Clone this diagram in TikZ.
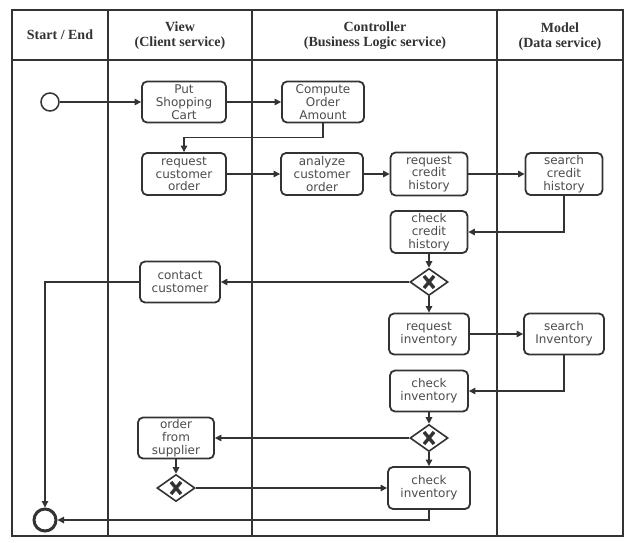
\documentclass[tikz,border=0pt]{standalone}
\usepackage{fontspec}
\setmainfont{Liberation Serif}
\newfontfamily\activityfont{DejaVu Sans}
\definecolor{jet}{rgb}{0.2, 0.2, 0.2}
\definecolor{davysgrey}{rgb}{0.3, 0.3, 0.3}
\usetikzlibrary{shapes.geometric,arrows.meta}

\begin{document}
\begin{tikzpicture}[x=1pt, y=-1pt,
	lane/.style = {draw=jet, line width=1.8pt},
	lanetitle/.style = {font={\bfseries\fontsize{14}{15}\selectfont}, text=jet, align=center},
	activity/.style = {draw=jet, line width=1.8pt, rounded corners=5pt, minimum width=80pt, minimum height=41pt, inner sep=0pt, align=center, text=davysgrey, font={\activityfont\fontsize{12}{12.8}\selectfont}},
	gateway/.style = {draw=jet, diamond, line width=1.6pt, minimum width=38pt, minimum height=27pt, inner sep=0pt,
		path picture={\draw[jet, line width=3.4pt] ([shift={(-5,-6)}]path picture bounding box.center) -- ([shift={(5,6)}]path picture bounding box.center) ([shift={(-5,6)}]path picture bounding box.center) -- ([shift={(5,-6)}]path picture bounding box.center);}},
	startevent/.style = {draw=jet, circle, line width=1.5pt, minimum size=18pt, inner sep=0pt},
	endevent/.style = {draw=jet, circle, line width=3pt, minimum size=22pt, inner sep=0pt},
	flow/.style = {draw=jet, line width=1.2pt, -{Triangle[length=6.5pt, width=6.5pt]}}]
	\useasboundingbox[fill=white] (0,0) rectangle (627,542);

	% swimlanes
	\draw[lane] (12,10) rectangle (623,536);
	\draw[lane] (12,60) -- (623,60);
	\foreach \x in {108,252,497}
		\draw[lane] (\x,10) -- (\x,536);
	\node[lanetitle] (startend) at (60,35) {Start / End};
	\node[lanetitle] (view) at (180,36) {View\\(Client service)};
	\node[lanetitle] (controller) at (375,36) {Controller\\(Business Logic service)};
	\node[lanetitle] (model) at (560,37) {Model\\(Data service)};

	% activities
	\node[startevent] (start) at (50,102) {};
	\node[activity, minimum width=84pt] (putcart) at (184,102) {Put\\Shopping\\Cart};
	\node[activity, minimum width=82pt] (computeamount) at (323,102) {Compute\\Order\\Amount};
	\node[activity, minimum width=84pt, minimum height=42pt] (requestorder) at (184,174) {request\\customer\\order};
	\node[activity, minimum width=82pt, minimum height=42pt] (analyzeorder) at (322,174) {analyze\\customer\\order};
	\node[activity, minimum width=77pt, minimum height=43pt] (requestcredit) at (429,174) {request\\credit\\history};
	\node[activity, minimum width=77pt, minimum height=42pt] (searchcredit) at (564,174) {search\\credit\\history};
	\node[activity, minimum width=77pt, minimum height=42pt] (checkcredit) at (429,232) {check\\credit\\history};
	\node[gateway] (creditok) at (429,282) {};
	\node[activity] (contactcustomer) at (180,282) {contact\\customer};
	\node[activity] (requestinventory) at (429,334) {request\\inventory};
	\node[activity] (searchinventory) at (564,334) {search\\Inventory};
	\node[activity, minimum width=78pt] (checkinventory) at (429,391) {check\\inventory};
	\node[gateway] (instock) at (429,438) {};
	\node[activity, minimum width=76pt] (ordersupplier) at (176,438) {order\\from\\supplier};
	\node[gateway] (supplied) at (176,488) {};
	\node[activity, minimum width=82pt, minimum height=42pt] (recheckinventory) at (429,488) {check\\inventory};
	\node[endevent] (end) at (45,520) {};

	% flows
	\draw[flow] (start) -- (putcart);
	\draw[flow] (putcart) -- (computeamount);
	\draw[flow] (computeamount.south) -- ++(0,14) -| (requestorder.north);
	\draw[flow] (requestorder) -- (analyzeorder);
	\draw[flow] (analyzeorder) -- (requestcredit);
	\draw[flow] (requestcredit) -- (searchcredit);
	\draw[flow] (searchcredit.south) |- (checkcredit.east);
	\draw[flow] (checkcredit) -- (creditok);
	\draw[flow] (creditok) -- (contactcustomer);
	\draw[flow] (creditok) -- (requestinventory);
	\draw[flow] (requestinventory) -- (searchinventory);
	\draw[flow] (searchinventory.south) |- (checkinventory.east);
	\draw[flow] (checkinventory) -- (instock);
	\draw[flow] (instock) -- (ordersupplier);
	\draw[flow] (instock) -- (recheckinventory);
	\draw[flow] (ordersupplier) -- (supplied);
	\draw[flow] (supplied) -- (recheckinventory);
	\draw[flow] (contactcustomer.west) -| (end.north);
	\draw[flow] (recheckinventory.south) |- (end.east);
\end{tikzpicture}
\end{document}
